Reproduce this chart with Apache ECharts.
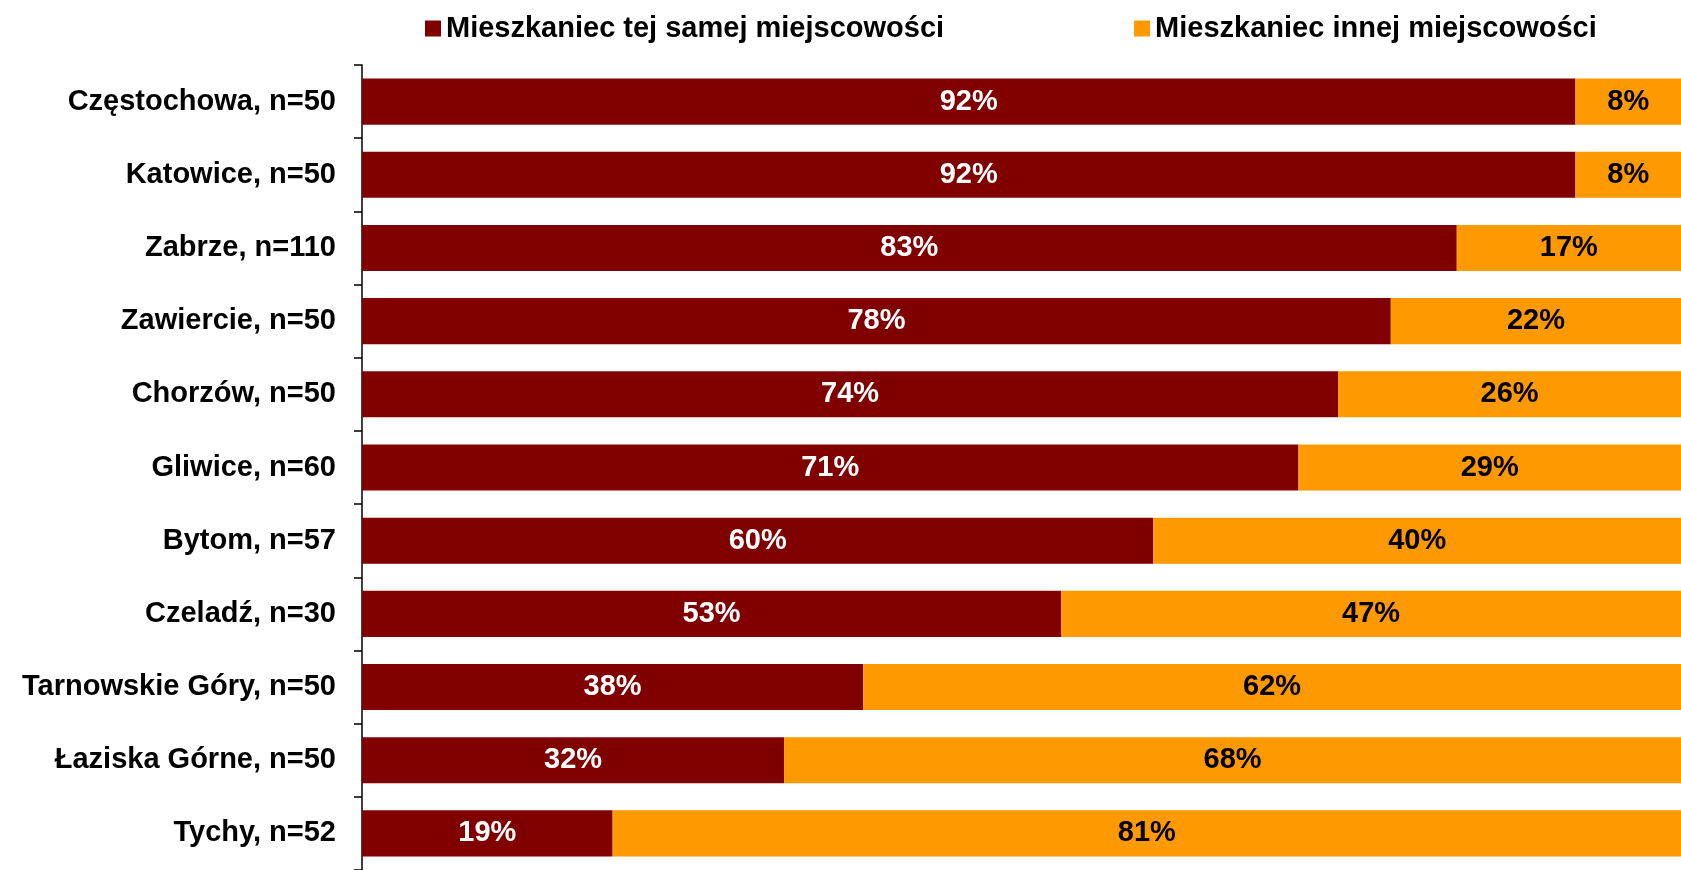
<!DOCTYPE html>
<html>
<head>
<meta charset="utf-8">
<style>
  html, body { margin: 0; padding: 0; background: #fff; }
  #main { width: 1681px; height: 870px; }
</style>
<script src="https://cdn.jsdelivr.net/npm/echarts@6/dist/echarts.min.js"></script>
</head>
<body>
<div id="main"></div>
<script>
// dane
var miasta = ['Częstochowa, n=50', 'Katowice, n=50', 'Zabrze, n=110', 'Zawiercie, n=50',
  'Chorzów, n=50', 'Gliwice, n=60', 'Bytom, n=57', 'Czeladź, n=30',
  'Tarnowskie Góry, n=50', 'Łaziska Górne, n=50', 'Tychy, n=52'];
var tenSam = [92, 92, 83, 78, 74, 71, 60, 53, 38, 32, 19];
var inny = [8, 8, 17, 22, 26, 29, 40, 47, 62, 68, 81];

var font = 'Liberation Sans, Arial, sans-serif';
var myChart = echarts.init(document.getElementById('main'));

var option = {
  animation: false,
  legend: {
    left: 420,
    top: 9,
    itemWidth: 16,
    itemHeight: 16,
    itemGap: 190,
    icon: 'rect',
    textStyle: { fontFamily: font, fontWeight: 'bold', fontSize: 29, color: '#000' },
    data: ['Mieszkaniec tej samej miejscowości', 'Mieszkaniec innej miejscowości']
  },
  grid: { left: 362, right: 0, top: 65, height: 812 },
  xAxis: {
    type: 'value',
    min: 0,
    max: 100,
    show: false
  },
  yAxis: {
    type: 'category',
    inverse: true,
    data: miasta,
    axisLine: { lineStyle: { color: '#000', width: 1.5 } },
    axisTick: { show: true, length: 8, lineStyle: { color: '#000', width: 1.5 } },
    axisLabel: { fontFamily: font, fontWeight: 'bold', fontSize: 29, color: '#000', margin: 26 }
  },
  series: [
    {
      name: 'Mieszkaniec tej samej miejscowości',
      type: 'bar',
      stack: 'a',
      barCategoryGap: '37%',
      data: tenSam,
      itemStyle: { color: '#800000' },
      label: {
        show: true,
        position: 'inside',
        formatter: '{c}%',
        fontFamily: font, fontWeight: 'bold', fontSize: 29, color: '#fff'
      }
    },
    {
      name: 'Mieszkaniec innej miejscowości',
      type: 'bar',
      stack: 'a',
      data: inny,
      itemStyle: { color: '#FF9900' },
      label: {
        show: true,
        position: 'inside',
        formatter: '{c}%',
        fontFamily: font, fontWeight: 'bold', fontSize: 29, color: '#000'
      }
    }
  ]
};

myChart.setOption(option);
</script>
</body>
</html>
